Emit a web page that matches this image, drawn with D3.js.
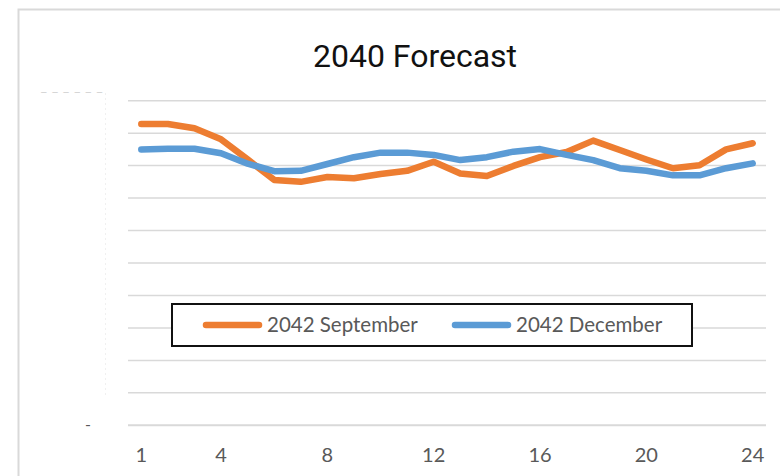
<!DOCTYPE html>
<html>
<head>
<meta charset="utf-8">
<script src="https://cdn.jsdelivr.net/npm/d3@7.9.0/dist/d3.min.js"></script>
<style>
  body { margin: 0; background: #fff; }
  svg { display: block; }
</style>
</head>
<body>
<svg id="chart"></svg>
<script>
// hours of the day, 1..24
const hours = d3.range(1, 25);
const xTicks = [1, 4, 8, 12, 16, 20, 24];

// values (axis units hidden in source, grid step = 10)
const september = [92.8, 92.8, 91.5, 88.1, 81.9, 75.6, 75.0, 76.5, 76.1, 77.4, 78.4, 81.2,
                   77.6, 76.8, 79.9, 82.6, 84.2, 87.7, 84.8, 81.9, 79.2, 80.1, 85.0, 86.9];
const december  = [85.0, 85.2, 85.2, 83.8, 80.6, 78.3, 78.4, 80.5, 82.6, 84.0, 84.0, 83.3,
                   81.7, 82.6, 84.3, 85.1, 83.3, 81.7, 79.2, 78.4, 77.0, 77.0, 79.2, 80.7];

const seriesNames = ["2042 September", "2042 December"];
const seriesColors = ["#ED7D31", "#5B9BD5"];

const width = 780, height = 476;
const svg = d3.select("#chart").attr("width", width).attr("height", height);

// chart area border
svg.append("rect")
  .attr("x", 18.5).attr("y", 9.5)
  .attr("width", 800).attr("height", 500)
  .attr("fill", "#fff")
  .attr("stroke", "#d9d9d9")
  .attr("stroke-width", 2);

// title
svg.append("text")
  .attr("x", 415).attr("y", 67)
  .attr("text-anchor", "middle")
  .attr("font-family", "Roboto, sans-serif")
  .attr("font-size", 32)
  .attr("fill", "#111")
  .text("2040 Forecast");

const plot = { left: 128, right: 766, top: 100.7, bottom: 425.3 };

const x = d3.scaleBand()
  .domain(hours)
  .range([plot.left, plot.right]);

const y = d3.scaleLinear()
  .domain([0, 100])
  .range([plot.bottom, plot.top]);

// gridlines
svg.append("g")
  .selectAll("line")
  .data(y.ticks(10))
  .join("line")
  .attr("x1", plot.left).attr("x2", plot.right)
  .attr("y1", d => y(d)).attr("y2", d => y(d))
  .attr("stroke", "#d9d9d9")
  .attr("stroke-width", d => d === 0 ? 2 : 1.5);

// y labels (masked in the source: only zero shows as "-")
svg.append("text")
  .attr("x", 88).attr("y", y(0) + 5)
  .attr("text-anchor", "middle")
  .attr("font-family", "Lato, sans-serif")
  .attr("font-size", 16)
  .attr("fill", "#595959")
  .text("-");

svg.append("text")
  .attr("x", 40).attr("y", 97)
  .attr("font-family", "Lato, sans-serif")
  .attr("font-size", 14)
  .attr("fill", "#d4d4d4")
  .text("‒ ‒ ‒  ‒ ‒ ‒");

svg.append("line")
  .attr("x1", 105.5).attr("x2", 105.5)
  .attr("y1", 93).attr("y2", 398)
  .attr("stroke", "#f0f0f0")
  .attr("stroke-dasharray", "2,3");

// x axis labels
svg.append("g")
  .selectAll("text")
  .data(xTicks)
  .join("text")
  .attr("x", d => x(d) + x.bandwidth() / 2)
  .attr("y", 462)
  .attr("text-anchor", "middle")
  .attr("font-family", "Lato, sans-serif")
  .attr("font-size", 20)
  .attr("fill", "#595959")
  .text(d => d);

// lines
const line = d3.line()
  .x((d, i) => x(hours[i]) + x.bandwidth() / 2)
  .y(d => y(d));

[september, december].forEach((values, k) => {
  svg.append("path")
    .datum(values)
    .attr("d", line)
    .attr("fill", "none")
    .attr("stroke", seriesColors[k])
    .attr("stroke-width", 6.5)
    .attr("stroke-linejoin", "round")
    .attr("stroke-linecap", "round");
});

// legend
const legend = svg.append("g");
legend.append("rect")
  .attr("x", 172).attr("y", 304)
  .attr("width", 520).attr("height", 42)
  .attr("fill", "#fff")
  .attr("stroke", "#111")
  .attr("stroke-width", 2);

const legendX = [206, 455];
seriesNames.forEach((name, k) => {
  legend.append("line")
    .attr("x1", legendX[k]).attr("x2", legendX[k] + 53)
    .attr("y1", 325).attr("y2", 325)
    .attr("stroke", seriesColors[k])
    .attr("stroke-width", 6.5)
    .attr("stroke-linecap", "round");
  legend.append("text")
    .attr("x", legendX[k] + 61)
    .attr("y", 332)
    .attr("font-family", "Lato, sans-serif")
    .attr("font-size", 20.5)
    .attr("fill", "#595959")
    .text(name);
});
</script>
</body>
</html>
